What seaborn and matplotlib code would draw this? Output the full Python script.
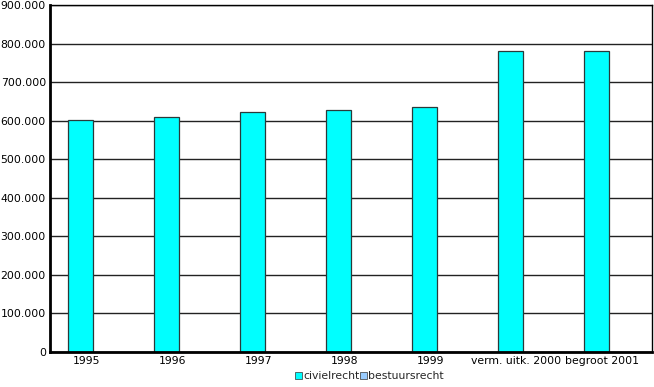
import matplotlib
matplotlib.use("Agg")
import matplotlib.pyplot as plt
import matplotlib.transforms as mtransforms
import seaborn as sns
import pandas as pd
from matplotlib.patches import Patch
from matplotlib.ticker import FuncFormatter

categories = ["1995", "1996", "1997", "1998", "1999", "verm. uitk. 2000", "begroot 2001"]
civielrecht = [603000, 610000, 622000, 629000, 635000, 781000, 781000]
bestuursrecht = [0, 0, 0, 0, 0, 0, 0]
series = ["civielrecht", "bestuursrecht"]
colors = ["#00FFFF", "#99CCFF"]

sns.set_style("white")
plt.rcParams['font.family'] = ['DejaVu Sans']

df = pd.DataFrame({
    "cat": categories * 2,
    "val": civielrecht + bestuursrecht,
    "serie": [series[0]] * len(categories) + [series[1]] * len(categories),
})

fig = plt.figure(figsize=(6.54, 3.87), dpi=100)
ax = fig.add_axes([0.0765, 0.0904, 0.9205, 0.8966])
sns.barplot(data=df, x="cat", y="val", hue="serie", palette=colors, saturation=1,
            width=0.58, edgecolor="#2a3a3a", linewidth=0.9, ax=ax, legend=False)
for p in ax.patches:
    if p.get_height() == 0:
        p.set_linewidth(0)

ax.set_ylim(0, 900000)
ax.set_xlim(-0.5, len(categories) - 0.5)
ax.set_yticks(range(0, 900001, 100000))
ax.yaxis.set_major_formatter(FuncFormatter(lambda v, p: "0" if v == 0 else f"{int(v):,}".replace(",", ".")))
ax.set_xlabel("")
ax.set_ylabel("")
ax.yaxis.grid(True, color="#222222", linewidth=1)
ax.set_axisbelow(True)
for s in ["top", "right"]:
    ax.spines[s].set_color("black")
    ax.spines[s].set_linewidth(1)
for s in ["left", "bottom"]:
    ax.spines[s].set_color("black")
    ax.spines[s].set_linewidth(2)
ax.tick_params(axis="both", labelsize=7.8, colors="black", length=0, pad=3)
ax.set_xticks(range(len(categories)))
ax.set_xticklabels(categories)
ax.set_xticks([i + 0.5 for i in range(-1, len(categories))], minor=True)
ax.tick_params(axis="x", which="minor", length=3, width=1, direction="out")

shift = mtransforms.ScaledTranslation(-7 / 100, 0, fig.dpi_scale_trans)
for lbl in ax.get_xticklabels():
    lbl.set_transform(lbl.get_transform() + shift)

handles = [Patch(facecolor=c, edgecolor="#333333", linewidth=0.5) for c in colors]
fig.legend(handles, series, loc="lower center", bbox_to_anchor=(0.565, -0.01), ncol=2,
           frameon=False, fontsize=7.8, handlelength=0.6, handleheight=0.6,
           handletextpad=0.1, columnspacing=0.1)

fig.savefig("out.png", dpi=100)
